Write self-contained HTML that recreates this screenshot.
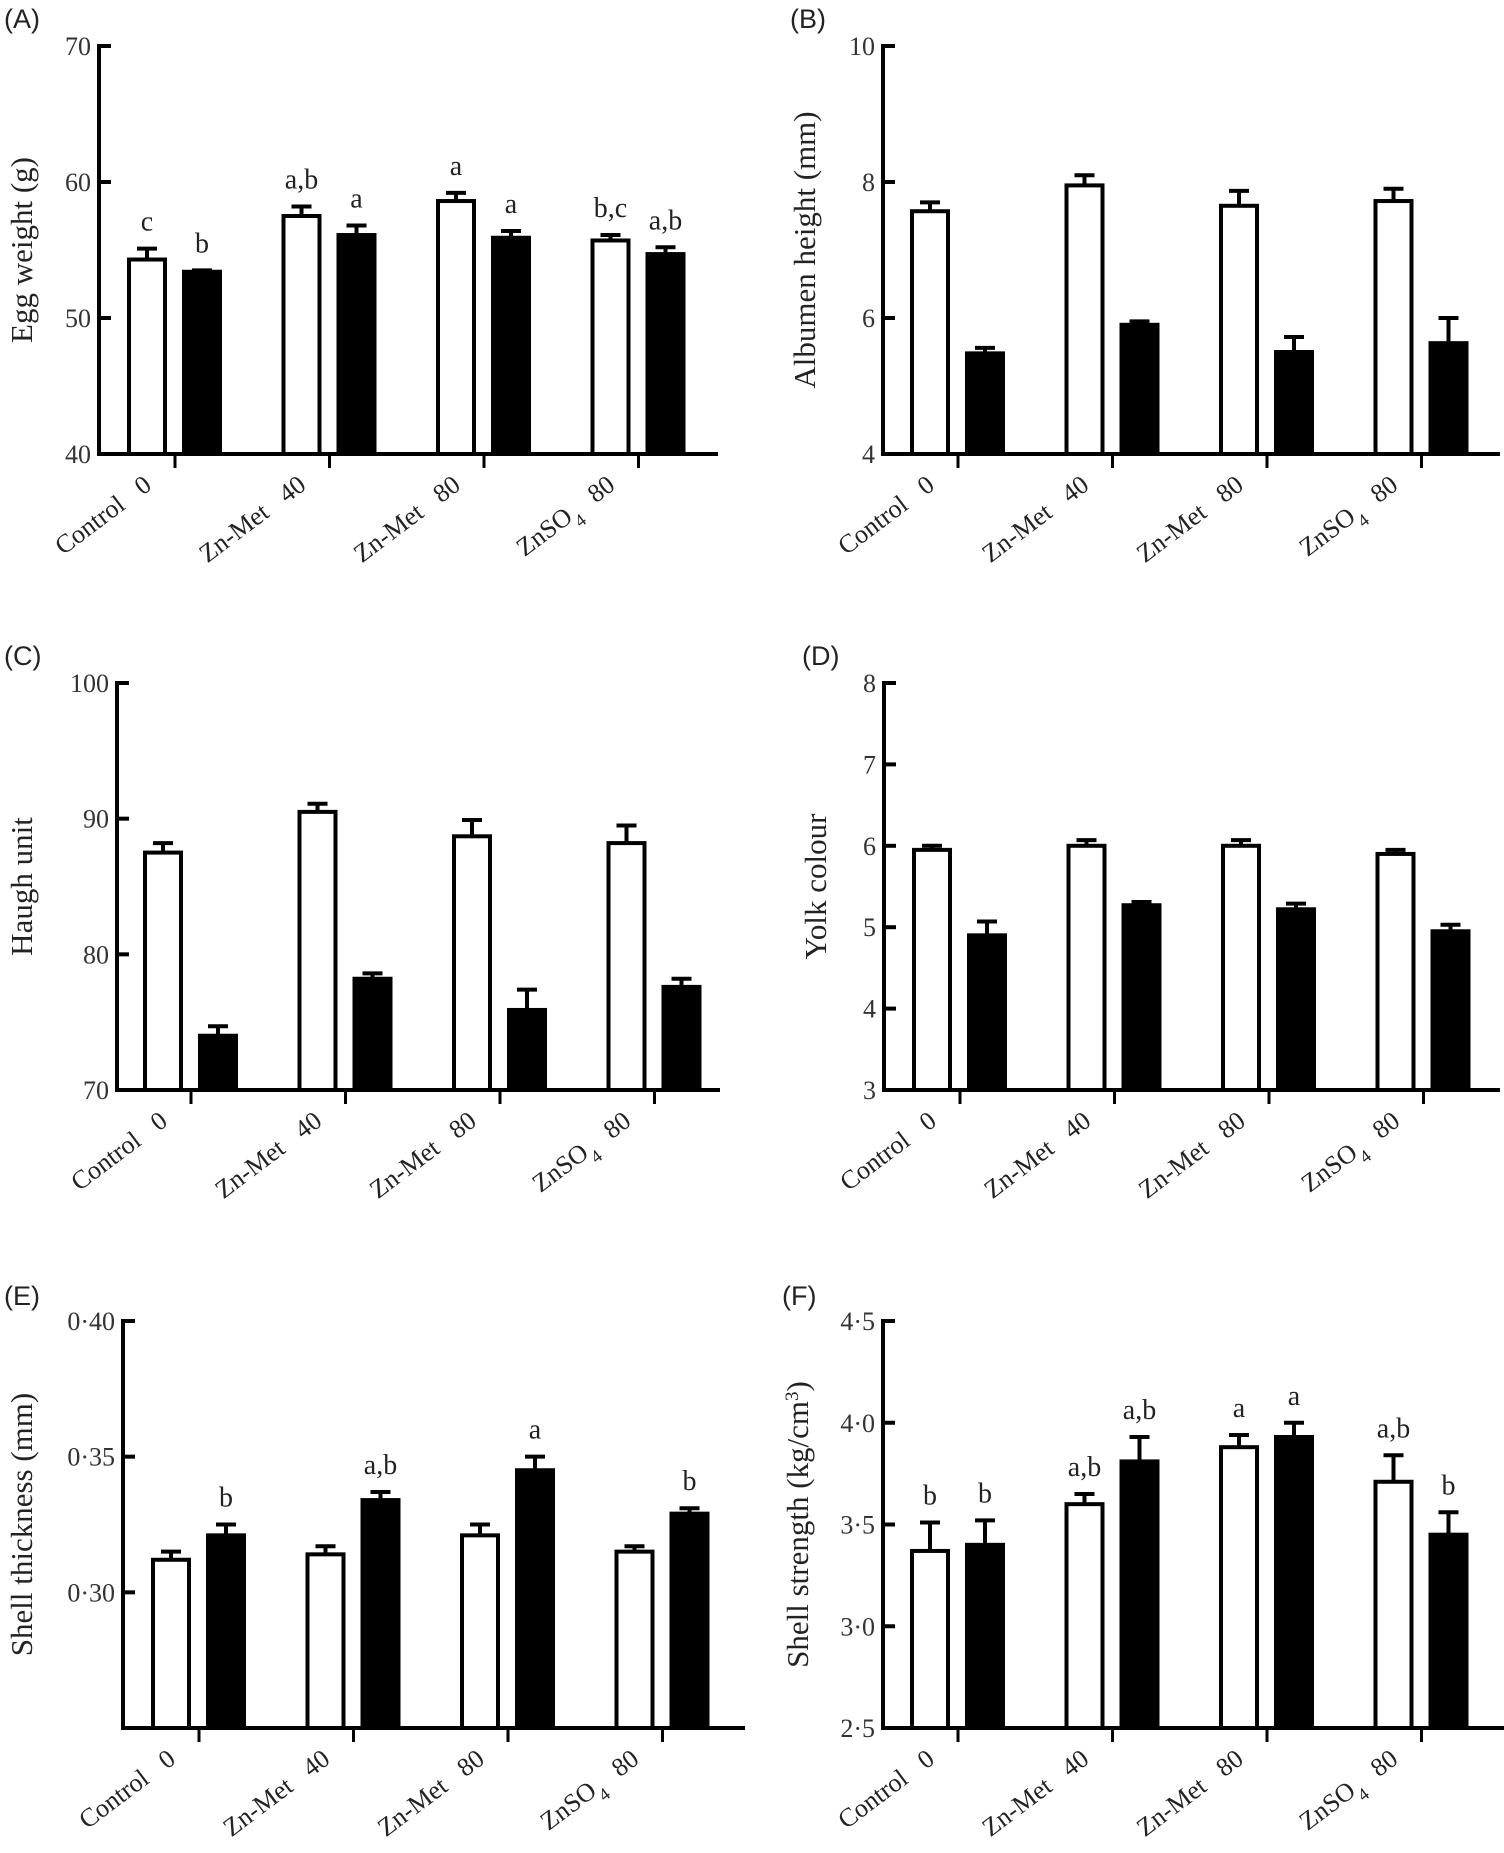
<!DOCTYPE html>
<html><head><meta charset="utf-8">
<style>
html,body{margin:0;padding:0;background:#fff;}
svg{display:block;}
text{font-family:"Liberation Serif",serif;fill:#222;}
.plab{font-family:"Liberation Sans",sans-serif;font-size:27px;}
.tick{font-size:26px;fill:#333;}
.ytitle{font-size:31px;}
.cat{font-size:26px;}
.sig{font-size:28px;}
</style></head>
<body>
<svg id="fig" width="1504" height="1853" viewBox="0 0 1504 1853"></svg>
<script>
const categories = ["Control 0","Zn-Met 40","Zn-Met 80","ZnSO4 80"];
// Panel A
const aWhite = [54.3,57.5,58.6,55.7], aWhiteErr=[0.8,0.7,0.6,0.4];
const aBlack = [53.4,56.1,55.9,54.7], aBlackErr=[0.1,0.7,0.5,0.5];
const aWhiteSig = ["c","a,b","a","b,c"], aBlackSig=["b","a","a","a,b"];
const aTicks = [40,50,60,70], aTickLabels=["40","50","60","70"];
// Panel B
const bWhite = [7.57,7.95,7.65,7.72], bWhiteErr=[0.13,0.15,0.22,0.18];
const bBlack = [5.48,5.90,5.50,5.63], bBlackErr=[0.08,0.05,0.22,0.37];
const bTicks = [4,6,8,10], bTickLabels=["4","6","8","10"];
// Panel C
const cWhite = [87.5,90.5,88.7,88.2], cWhiteErr=[0.7,0.6,1.2,1.3];
const cBlack = [74.0,78.2,75.9,77.6], cBlackErr=[0.7,0.4,1.5,0.6];
const cTicks = [70,80,90,100], cTickLabels=["70","80","90","100"];
// Panel D
const dWhite = [5.95,6.0,6.0,5.9], dWhiteErr=[0.05,0.07,0.07,0.05];
const dBlack = [4.9,5.27,5.22,4.95], dBlackErr=[0.17,0.04,0.07,0.08];
const dTicks = [3,4,5,6,7,8], dTickLabels=["3","4","5","6","7","8"];
// Panel E
const eWhite = [0.312,0.314,0.321,0.315], eWhiteErr=[0.003,0.003,0.004,0.002];
const eBlack = [0.321,0.334,0.345,0.329], eBlackErr=[0.004,0.003,0.005,0.002];
const eBlackSig = ["b","a,b","a","b"];
const eTicks = [0.30,0.35,0.40], eTickLabels=["0·30","0·35","0·40"];
// Panel F
const fWhite = [3.37,3.60,3.88,3.71], fWhiteErr=[0.14,0.05,0.06,0.13];
const fBlack = [3.40,3.81,3.93,3.45], fBlackErr=[0.12,0.12,0.07,0.11];
const fWhiteSig = ["b","a,b","a","a,b"], fBlackSig=["b","a,b","a","b"];
const fTicks = [2.5,3.0,3.5,4.0,4.5], fTickLabels=["2·5","3·0","3·5","4·0","4·5"];

const NS="http://www.w3.org/2000/svg";
const svg=document.getElementById('fig');
function el(tag,attrs,parent){const e=document.createElementNS(NS,tag);for(const k in attrs)e.setAttribute(k,attrs[k]);(parent||svg).appendChild(e);return e;}

const panels=[
 {id:"a",lab:"(A)",title:"Egg weight (g)",ax:99,tx:32,top:46,bot:454,xend:718,t0:175,min:40,max:70,w:aWhite,we:aWhiteErr,b:aBlack,be:aBlackErr,ws:aWhiteSig,bs:aBlackSig,ticks:aTicks,tl:aTickLabels,labx:4,laby:28},
 {id:"b",lab:"(B)",title:"Albumen height (mm)",ax:883,tx:815,top:46,bot:454,xend:1500,t0:958,min:4,max:10,w:bWhite,we:bWhiteErr,b:bBlack,be:bBlackErr,ticks:bTicks,tl:bTickLabels,labx:790,laby:28},
 {id:"c",lab:"(C)",title:"Haugh unit",ax:117,tx:32,top:683,bot:1090,xend:720,t0:191,min:70,max:100,w:cWhite,we:cWhiteErr,b:cBlack,be:cBlackErr,ticks:cTicks,tl:cTickLabels,labx:4,laby:665},
 {id:"d",lab:"(D)",title:"Yolk colour",ax:884,tx:826,top:683,bot:1090,xend:1500,t0:960,min:3,max:8,w:dWhite,we:dWhiteErr,b:dBlack,be:dBlackErr,ticks:dTicks,tl:dTickLabels,labx:802,laby:665},
 {id:"e",lab:"(E)",title:"Shell thickness (mm)",ax:123,tx:32,top:1321,bot:1728,xend:745,t0:199,min:0.25,max:0.40,w:eWhite,we:eWhiteErr,b:eBlack,be:eBlackErr,bs:eBlackSig,ticks:eTicks,tl:eTickLabels,labx:4,laby:1305},
 {id:"f",lab:"(F)",title:"Shell strength (kg/cm³)",ax:883,tx:808,top:1321,bot:1728,xend:1504,t0:958,min:2.5,max:4.5,w:fWhite,we:fWhiteErr,b:fBlack,be:fBlackErr,ws:fWhiteSig,bs:fBlackSig,ticks:fTicks,tl:fTickLabels,labx:782,laby:1305}
];
const GAP=154.5;

panels.forEach(p=>{
  const g=el('g',{});
  
  
  const y=v=>p.bot-(v-p.min)/(p.max-p.min)*(p.bot-p.top);
  const xt=i=>p.t0+i*GAP;
  const pl=el('text',{x:p.labx,y:p.laby,class:'plab'},g);pl.textContent=p.lab;
  
  
  const ya=el('line',{x1:p.ax,y1:p.top-2,x2:p.ax,y2:p.bot+2,stroke:'#000','stroke-width':4},g);
  
  
  const xa=el('line',{x1:p.ax-2,y1:p.bot,x2:p.xend,y2:p.bot,stroke:'#000','stroke-width':4},g);
  
  
  p.ticks.forEach((t,i)=>{
    const ty=y(t);
    el('line',{x1:p.ax,y1:ty,x2:p.ax+12,y2:ty,stroke:'#000','stroke-width':4},g);
    const tt=el('text',{x:p.ax-8,y:ty+9,class:'tick','text-anchor':'end'},g);
    tt.textContent=p.tl[i];
    
    
  });
  const yt=el('text',{class:'ytitle','text-anchor':'middle',transform:`translate(${p.tx},${(p.top+p.bot)/2}) rotate(-90)`},g);
  if(p.id==='f'){yt.innerHTML='Shell strength (kg/cm<tspan baseline-shift="super" font-size="19">3</tspan>)';}
  else yt.textContent=p.title;
  
  
  categories.forEach((c,i)=>{
    const tx=xt(i);
    el('line',{x1:tx,y1:p.bot,x2:tx,y2:p.bot+14,stroke:'#000','stroke-width':3},g);
    const ct=el('text',{class:'cat','text-anchor':'end',transform:`translate(${tx-22},${p.bot+34}) rotate(-37)`},g);
    const parts=c.split(' ');
    if(parts[0]==='ZnSO4'){ct.innerHTML='ZnSO<tspan baseline-shift="sub" font-size="18">4</tspan><tspan dx="18">'+parts[1]+'</tspan>';}
    else ct.innerHTML=parts[0]+'<tspan dx="20">'+parts[1]+'</tspan>';
    
    
    [['w',p.w,p.we,p.ws,tx-46,'#fff'],['b',p.b,p.be,p.bs,tx+9,'#000']].forEach(([k,vals,errs,sigs,x0,fill])=>{
      const v=vals[i],top=y(v),eTop=y(v+errs[i]);
      const cx=x0+18;
      el('line',{x1:cx,y1:top,x2:cx,y2:eTop,stroke:'#000','stroke-width':4},g);
      el('line',{x1:cx-10,y1:eTop,x2:cx+10,y2:eTop,stroke:'#000','stroke-width':4},g);
      const r=el('rect',{x:x0,y:top,width:36,height:p.bot-top,fill:fill,stroke:'#000','stroke-width':4},g);
      
      
      if(sigs){
        const s=el('text',{x:cx,y:eTop-18,class:'sig','text-anchor':'middle'},g);
        s.textContent=sigs[i];
        
        
      }
    });
  });
});
</script>
</body></html>
